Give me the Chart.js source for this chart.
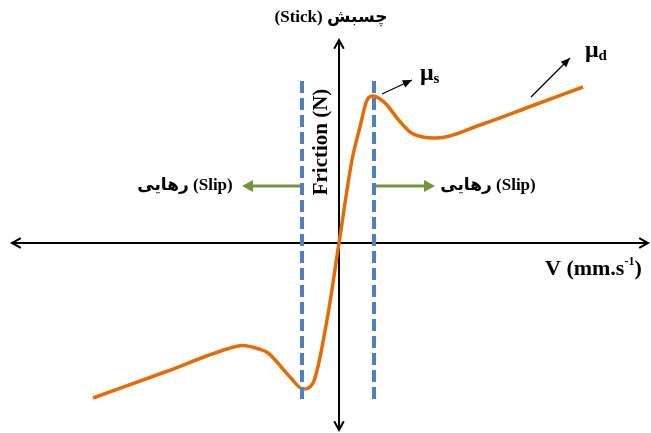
<!DOCTYPE html>
<html>
<head>
<meta charset="utf-8">
<script src="https://cdn.jsdelivr.net/npm/chart.js@4.4.0/dist/chart.umd.min.js"></script>
<style>
body { margin: 0; background: #fff; }
#wrap { width: 651px; height: 433px; }
</style>
</head>
<body>
<div id="wrap"><canvas id="myChart"></canvas></div>
<script>
// friction curve (Stribeck-like)
var curveX = [-2.46, -1.74, -1.12, -0.97, -0.80, -0.71, -0.49, -0.36, -0.26, -0.12, 0, 0.13, 0.21, 0.28, 0.34, 0.41, 0.48, 0.58, 0.71, 0.84, 0.98, 1.41, 1.90, 2.44];
var curveY = [-1.55, -1.29, -1.06, -1.025, -1.06, -1.10, -1.34, -1.46, -1.40, -0.77, 0, 0.83, 1.16, 1.43, 1.47, 1.44, 1.38, 1.25, 1.11, 1.06, 1.05, 1.18, 1.36, 1.56];

// stick / slip limits (dashed lines)
var limitX = [-0.37, 0.35];
var limitY = [1.62, -1.61];

// slip arrows
var slipY = 0.57;
var slipFrom = [-0.39, 0.37];
var slipTo = [-0.97, 0.96];

// axis ranges
var xRange = [-3.27, 3.09];
var yRange = [-1.87, 2.03];

var orange = '#E36C09';
var blue = '#4F81BD';
var green = '#77933C';

var curvePts = curveX.map(function (x, i) { return { x: x, y: curveY[i] }; });
var limitSets = limitX.map(function (x) {
    return {
        data: [{ x: x, y: limitY[0] }, { x: x, y: limitY[1] }],
        borderColor: blue,
        borderWidth: 4,
        borderDash: [12, 5],
        pointRadius: 0,
        tension: 0
    };
});

function arrowHead(c, x1, y1, x2, y2, size) {
    var a = Math.atan2(y2 - y1, x2 - x1);
    c.beginPath();
    c.moveTo(x2 - size * Math.cos(a - 0.5), y2 - size * Math.sin(a - 0.5));
    c.lineTo(x2, y2);
    c.lineTo(x2 - size * Math.cos(a + 0.5), y2 - size * Math.sin(a + 0.5));
    c.stroke();
}

var sketch = {
    id: 'sketch',
    beforeDatasetsDraw: function (chart) {
        var c = chart.ctx, a = chart.chartArea;
        var xs = chart.scales.x, ys = chart.scales.y;
        var ox = xs.getPixelForValue(0), oy = ys.getPixelForValue(0);
        c.save();
        c.strokeStyle = '#000';
        c.lineWidth = 2;
        c.beginPath();
        c.moveTo(a.left, oy); c.lineTo(a.right, oy);
        c.moveTo(ox, a.top); c.lineTo(ox, a.bottom);
        c.stroke();
        arrowHead(c, ox, oy, a.left, oy, 10);
        arrowHead(c, ox, oy, a.right, oy, 10);
        arrowHead(c, ox, oy, ox, a.top, 10);
        arrowHead(c, ox, oy, ox, a.bottom, 10);

        // green slip arrows
        c.strokeStyle = green; c.fillStyle = green; c.lineWidth = 3;
        var sy = ys.getPixelForValue(slipY);
        for (var i = 0; i < 2; i++) {
            var x1 = xs.getPixelForValue(slipFrom[i]), x2 = xs.getPixelForValue(slipTo[i]);
            var dir = x2 > x1 ? 1 : -1;
            c.beginPath(); c.moveTo(x1, sy); c.lineTo(x2 - dir * 8, sy); c.stroke();
            c.beginPath();
            c.moveTo(x2, sy); c.lineTo(x2 - dir * 11, sy - 6); c.lineTo(x2 - dir * 11, sy + 6);
            c.closePath(); c.fill();
        }

        // mu pointers
        c.strokeStyle = '#000'; c.fillStyle = '#000'; c.lineWidth = 1.3;
        var pts = [[382, 94, 412, 80], [531, 97, 570, 58]];
        pts.forEach(function (p) {
            c.beginPath(); c.moveTo(p[0], p[1]); c.lineTo(p[2], p[3]); c.stroke();
            var ang = Math.atan2(p[3] - p[1], p[2] - p[0]);
            c.beginPath();
            c.moveTo(p[2], p[3]);
            c.lineTo(p[2] - 10 * Math.cos(ang - 0.4), p[3] - 10 * Math.sin(ang - 0.4));
            c.lineTo(p[2] - 10 * Math.cos(ang + 0.4), p[3] - 10 * Math.sin(ang + 0.4));
            c.closePath(); c.fill();
        });

        // texts
        var serif = '"Liberation Serif", "DejaVu Serif", "DejaVu Sans", serif';
        c.fillStyle = '#000';
        c.textBaseline = 'middle';
        c.textAlign = 'center';
        c.font = 'bold 17px ' + serif;
        c.fillText('(Stick) چسبش', 331, 18);
        c.fillText('رهایی (Slip)', 185, 186);
        c.fillText('رهایی (Slip)', 488, 186);

        c.save();
        c.translate(322, 142);
        c.rotate(-Math.PI / 2);
        c.font = 'bold 21px ' + serif;
        c.fillText('Friction (N)', 0, 0);
        c.restore();

        c.textAlign = 'left';
        c.font = 'bold 22px ' + serif;
        var vx = 545, vy = 269;
        c.fillText('V (mm.s', vx, vy);
        var w = c.measureText('V (mm.s').width;
        c.font = 'bold 12px ' + serif;
        c.fillText('-1', vx + w, vy - 7);
        var w2 = c.measureText('-1').width;
        c.font = 'bold 22px ' + serif;
        c.fillText(')', vx + w + w2, vy);

        c.font = 'bold 24px ' + serif;
        c.fillText('μ', 420, 74);
        var mw = c.measureText('μ').width;
        c.fillText('μ', 585, 51);
        c.font = 'bold 15px ' + serif;
        c.fillText('s', 420 + mw, 79);
        c.fillText('d', 585 + mw, 56);
        c.restore();
    }
};

var ctx = document.getElementById('myChart').getContext('2d');
var myChart = new Chart(ctx, {
    type: 'line',
    data: {
        datasets: limitSets.concat([{
            data: curvePts,
            borderColor: orange,
            borderWidth: 3.5,
            pointRadius: 0,
            cubicInterpolationMode: 'monotone',
            tension: 0.4
        }])
    },
    options: {
        responsive: true,
        maintainAspectRatio: false,
        animation: false,
        layout: { padding: { left: 12, right: 3, top: 40, bottom: 3 } },
        plugins: { legend: { display: false }, tooltip: { enabled: false } },
        scales: {
            x: { type: 'linear', min: xRange[0], max: xRange[1], display: false },
            y: { type: 'linear', min: yRange[0], max: yRange[1], display: false }
        }
    },
    plugins: [sketch]
});
</script>
</body>
</html>
